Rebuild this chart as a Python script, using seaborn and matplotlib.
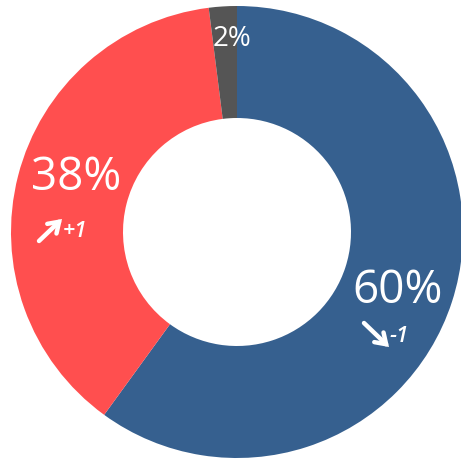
import matplotlib
matplotlib.use("Agg")
import matplotlib.pyplot as plt
import seaborn as sns

sns.set_theme(style="white")
plt.rcParams["font.family"] = ["Open Sans", "DejaVu Sans"]

# share of each segment, clockwise from the top
labels = ["60%", "38%", "2%"]
shares = [60, 38, 2]
colors = ["#36608f", "#ff4f4f", "#555555"]
changes = ["-1", "+1", ""]

fig = plt.figure(figsize=(4.61, 4.60), dpi=100)
ax = fig.add_axes([0, 0, 1, 1])

ax.pie(shares, colors=colors, startangle=90, counterclock=False,
       center=(237, 227), radius=226,
       wedgeprops=dict(width=112, edgecolor="none"), frame=True)
ax.set_xlim(0, 461)
ax.set_ylim(0, 460)
ax.set_aspect("equal")
ax.axis("off")

# big percentage labels
ax.text(398, 157, labels[0], ha="center", va="baseline", fontsize=33, color="white")
ax.text(76, 270, labels[1], ha="center", va="baseline", fontsize=33, color="white")
ax.text(232, 414, labels[2], ha="center", va="baseline", fontsize=20, color="white")

# change markers (arrow + delta)
arrow = dict(arrowstyle="->,head_length=0.6,head_width=0.4", color="white", lw=3.2,
             shrinkA=0, shrinkB=0, capstyle="round", joinstyle="miter")
ax.annotate("", xy=(389, 112), xytext=(364, 136), arrowprops=arrow)
ax.text(389, 118, changes[0], ha="left", va="baseline", fontsize=16, color="white",
        style="italic", weight="semibold")
ax.annotate("", xy=(62, 240), xytext=(39, 218), arrowprops=arrow)
ax.text(63, 223, changes[1], ha="left", va="baseline", fontsize=16, color="white",
        style="italic", weight="semibold")

fig.savefig("out.png", dpi=100)
